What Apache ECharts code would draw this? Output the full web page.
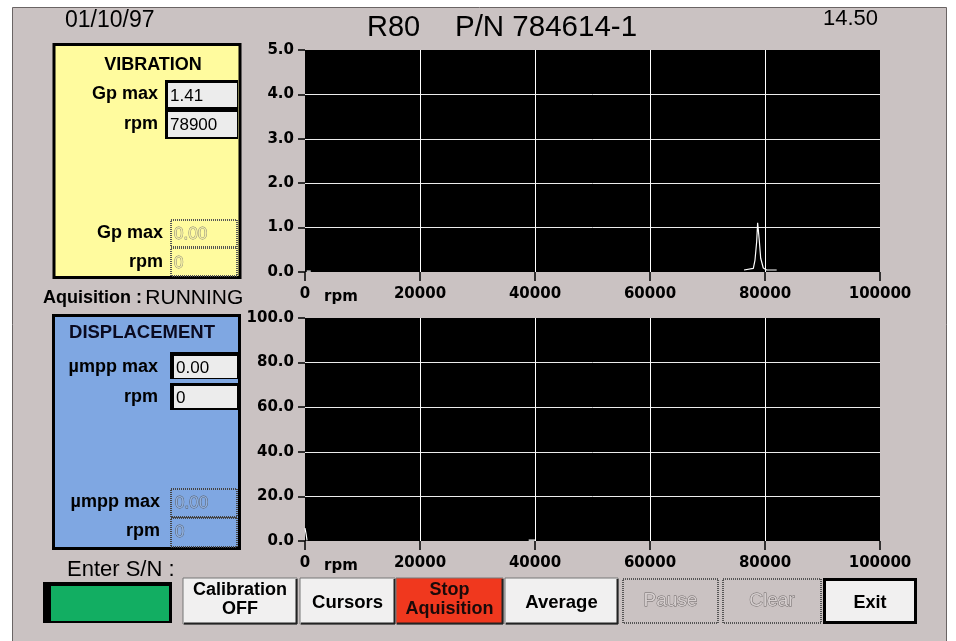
<!DOCTYPE html>
<html><head><meta charset="utf-8">
<script src="https://cdn.jsdelivr.net/npm/echarts@6/dist/echarts.min.js"></script>
<style>html,body{margin:0;padding:0;background:#fff}#c{width:956px;height:641px}</style>
</head><body><div id="c"></div>
<script>
// ---- data ----
const rpmTicks = [0, 20000, 40000, 60000, 80000, 100000];
const vibrationRpm = [300, 1000, 5000, 76350, 77970, 78260, 78550, 78720, 79000, 79250, 79700, 80290, 82030];
const vibrationGp  = [0.02, 0.02, '-', 0.045, 0.08, 0.27, 0.68, 1.11, 0.72, 0.31, 0.09, 0.045, 0.045];
const displacementRpm = [0, 200, 350, 5000, 38900, 40000];
const displacementUm  = [5.8, 3.0, 0.3, '-', 0.4, 0.4];
const vibTicks = [0, 1, 2, 3, 4, 5];
const dispTicks = [0, 20, 40, 60, 80, 100];
const headerDate = '01/10/97';
const headerTitleA = 'R80';
const headerTitleB = 'P/N 784614-1';
const headerTime = '14.50';
const vibMax = '1.41', vibMaxRpm = '78900', vibMin = '0.00', vibMinRpm = '0';
const dispMax = '0.00', dispMaxRpm = '0', dispMin = '0.00', dispMinRpm = '0';
const buttons = ['Calibration\nOFF', 'Cursors', 'Stop\nAquisition', 'Average', 'Pause', 'Clear', 'Exit'];

const pair = (xs, ys) => xs.map((x, i) => [x, ys[i]]);

const GRAY = '#cac2c2';
const SANS = '"Liberation Sans", Arial, sans-serif';
const TICKFONT = '"DejaVu Sans", sans-serif';

function txt(t, x, y, font, align, fill, extra) {
  return Object.assign({ type: 'text', silent: true, style: Object.assign({
    text: t, x: x, y: y, font: font, fill: fill || '#000',
    align: align || 'left', textAlign: align || 'left',
    verticalAlign: 'middle', textVerticalAlign: 'middle'
  }, extra || {}) });
}
function rect(x, y, w, h, fill, stroke, lw, dash) {
  const s = { fill: fill || 'none' };
  if (stroke) { s.stroke = stroke; s.lineWidth = lw || 1; }
  if (dash) s.lineDash = dash;
  return { type: 'rect', silent: true, shape: { x: x, y: y, width: w, height: h }, style: s };
}
function line(x1, y1, x2, y2, c, lw) {
  return { type: 'line', silent: true, shape: { x1: x1, y1: y1, x2: x2, y2: y2 }, style: { stroke: c, lineWidth: lw || 1 } };
}

const g = [];
// header
g.push(txt(headerDate, 65, 21, '23px ' + SANS, 'left'));
g.push(txt(headerTitleA, 367, 28, '29px ' + SANS, 'left'));
g.push(txt(headerTitleB, 455, 28, '29.5px ' + SANS, 'left'));
g.push(txt(headerTime, 823, 19, '22px ' + SANS, 'left'));

// vibration panel
g.push(rect(54, 44.5, 186, 233, '#fffb9e', '#000', 3));
g.push(txt('VIBRATION', 153, 65, 'bold 18px ' + SANS, 'center'));
g.push(txt('Gp max', 158, 94, 'bold 18px ' + SANS, 'right'));
g.push(txt('rpm', 158, 124, 'bold 18px ' + SANS, 'right'));
g.push(rect(165, 80, 73, 59, '#000'));
g.push(rect(168, 83, 69, 24, '#ececec'));
g.push(rect(168, 112, 69, 25, '#ececec'));
g.push(txt(vibMax, 170, 96, '17px ' + SANS, 'left'));
g.push(txt(vibMaxRpm, 170, 125, '17px ' + SANS, 'left'));
g.push(txt('Gp max', 163, 233, 'bold 18px ' + SANS, 'right'));
g.push(txt('rpm', 163, 262, 'bold 18px ' + SANS, 'right'));
g.push(rect(171, 220, 66, 27, 'none', '#555', 2, [1, 1]));
g.push(rect(171, 248, 66, 28, 'none', '#555', 2, [1, 1]));
g.push(txt(vibMin, 174, 234, '17px ' + SANS, 'left', '#f4eea0', { stroke: '#777', lineWidth: 0.8 }));
g.push(txt(vibMinRpm, 174, 263, '17px ' + SANS, 'left', '#f4eea0', { stroke: '#777', lineWidth: 0.8 }));

g.push({ type: 'text', silent: true, style: { x: 43, y: 298, verticalAlign: 'middle', textVerticalAlign: 'middle',
  text: '{a|Aquisition :} {b|RUNNING}', rich: {
    a: { font: 'bold 18px ' + SANS, fill: '#000' },
    b: { font: '21px ' + SANS, fill: '#000' } } } });

// displacement panel
g.push(rect(53.5, 315.5, 186, 233, '#7fa7e2', '#000', 3));
g.push(txt('DISPLACEMENT', 142, 333, 'bold 18.5px ' + SANS, 'center', '#0a0a20'));
g.push(txt('\u00b5mpp max', 158, 367, 'bold 18px ' + SANS, 'right'));
g.push(txt('rpm', 158, 397, 'bold 18px ' + SANS, 'right'));
g.push(rect(170, 352, 68, 27, '#000'));
g.push(rect(174, 356, 63, 22, '#ececec'));
g.push(rect(170, 383, 68, 27, '#000'));
g.push(rect(174, 386, 63, 22, '#ececec'));
g.push(txt(dispMax, 176, 368, '17px ' + SANS, 'left'));
g.push(txt(dispMaxRpm, 176, 398, '17px ' + SANS, 'left'));
g.push(txt('\u00b5mpp max', 160, 502, 'bold 18px ' + SANS, 'right'));
g.push(txt('rpm', 160, 531, 'bold 18px ' + SANS, 'right'));
g.push(rect(171, 489, 66, 28, 'none', '#444', 2, [1, 1]));
g.push(rect(171, 518, 66, 29, 'none', '#444', 2, [1, 1]));
g.push(txt(dispMin, 175, 503, '17px ' + SANS, 'left', '#8fb0e0', { stroke: '#555', lineWidth: 0.8 }));
g.push(txt(dispMinRpm, 175, 532, '17px ' + SANS, 'left', '#8fb0e0', { stroke: '#555', lineWidth: 0.8 }));

// Enter S/N
g.push(txt('Enter S/N :', 67, 570, '22px ' + SANS, 'left'));
g.push(rect(43, 582, 129, 41, '#000'));
g.push(rect(51, 586, 118, 35, '#12ae62'));

// buttons
const btnX = [183, 300, 396, 505, 622, 722, 823];
const btnW = [114, 95, 107, 113, 97, 100, 94];
const btnFill = ['#f1f0f0', '#f1f0f0', '#f0381e', '#f1f0f0', GRAY, GRAY, '#f1f0f0'];
buttons.forEach((label, i) => {
  const x = btnX[i], w = btnW[i], y = 578, h = 46;
  const disabled = (i === 4 || i === 5);
  if (i === 6) {
    g.push(rect(x + 1.5, y + 1.5, w - 3, h - 3, btnFill[i], '#000', 3));
  } else if (disabled) {
    g.push(rect(x + 1, y + 1, w - 2, h - 2, btnFill[i], '#555', 2, [1, 1]));
  } else {
    g.push(rect(x, y, w, h, btnFill[i], '#777', 1));
    g.push(line(x + 1, y + h - 0.5, x + w, y + h - 0.5, '#222', 2));
    g.push(line(x + w - 0.5, y + 1, x + w - 0.5, y + h, '#222', 2));
  }
  const lines = label.split('\n');
  const cx = x + w / 2;
  if (disabled) {
    g.push(txt(label, cx, y + h / 2, '19px ' + SANS, 'center', '#d6cfcf', { stroke: '#6a6464', lineWidth: 0.9 }));
  } else if (lines.length === 2) {
    g.push(txt(lines[0], cx, y + 12, 'bold 18px ' + SANS, 'center', i === 2 ? '#1a0a0a' : '#000'));
    g.push(txt(lines[1], cx, y + 31, 'bold 18px ' + SANS, 'center', i === 2 ? '#1a0a0a' : '#000'));
  } else {
    g.push(txt(label, cx, y + h / 2 + 2, (i === 6 ? 'bold 18px ' : 'bold 18.5px ') + SANS, 'center'));
  }
});

// rpm labels next to 0
g.push(txt('rpm', 341, 297, 'bold 15px ' + TICKFONT, 'center'));
g.push(txt('rpm', 341, 566, 'bold 15px ' + TICKFONT, 'center'));

function xAxisCfg(gi) {
  return {
    gridIndex: gi, type: 'value', min: rpmTicks[0], max: rpmTicks[rpmTicks.length - 1],
    interval: rpmTicks[1] - rpmTicks[0],
    axisLine: { show: true, lineStyle: { color: 'rgba(0,0,0,0)' } },
    axisTick: { show: true, length: 9, lineStyle: { color: '#000', width: 1.5 } },
    axisLabel: { color: '#000', fontFamily: 'DejaVu Sans', fontWeight: 'bold', fontSize: 15, margin: 15,
      formatter: v => String(v) },
    splitLine: { show: true, showMinLine: false, showMaxLine: false, lineStyle: { color: '#ffffff', width: 1 } }
  };
}
function yAxisCfg(gi, ticks) {
  return {
    gridIndex: gi, type: 'value', min: ticks[0], max: ticks[ticks.length - 1], interval: ticks[1] - ticks[0],
    axisLine: { show: true, lineStyle: { color: 'rgba(0,0,0,0)' } },
    axisTick: { show: true, length: 7, lineStyle: { color: '#000', width: 1.5 } },
    axisLabel: { color: '#000', fontFamily: 'DejaVu Sans', fontWeight: 'bold', fontSize: 15, margin: 11,
      formatter: v => v.toFixed(1) },
    splitLine: { show: true, showMinLine: false, showMaxLine: false, lineStyle: { color: '#ececec', width: 1 } }
  };
}

const chart = echarts.init(document.getElementById('c'), null, { renderer: 'canvas' });
chart.setOption({
  animation: false,
  backgroundColor: '#fff',
  graphic: [
    { id: 'frame', type: 'rect', silent: true, z: -100, zlevel: 0,
      shape: { x: 12.5, y: 7.5, width: 934, height: 640 }, style: { fill: GRAY, stroke: '#6a6464', lineWidth: 1 } },
    { type: 'group', children: g }
  ],
  grid: [
    { left: 305, top: 50, width: 575, height: 222, show: true, backgroundColor: '#000', borderWidth: 0 },
    { left: 305, top: 318, width: 575, height: 223, show: true, backgroundColor: '#000', borderWidth: 0 }
  ],
  xAxis: [xAxisCfg(0), xAxisCfg(1)],
  yAxis: [yAxisCfg(0, vibTicks), yAxisCfg(1, dispTicks)],
  series: [
    { type: 'line', xAxisIndex: 0, yAxisIndex: 0, data: pair(vibrationRpm, vibrationGp), showSymbol: false,
      connectNulls: false, lineStyle: { color: '#fff', width: 1.2 }, z: 5 },
    { type: 'line', xAxisIndex: 1, yAxisIndex: 1, data: pair(displacementRpm, displacementUm), showSymbol: false,
      connectNulls: false, lineStyle: { color: '#fff', width: 1.2 }, z: 5 }
  ]
});
</script></body></html>
